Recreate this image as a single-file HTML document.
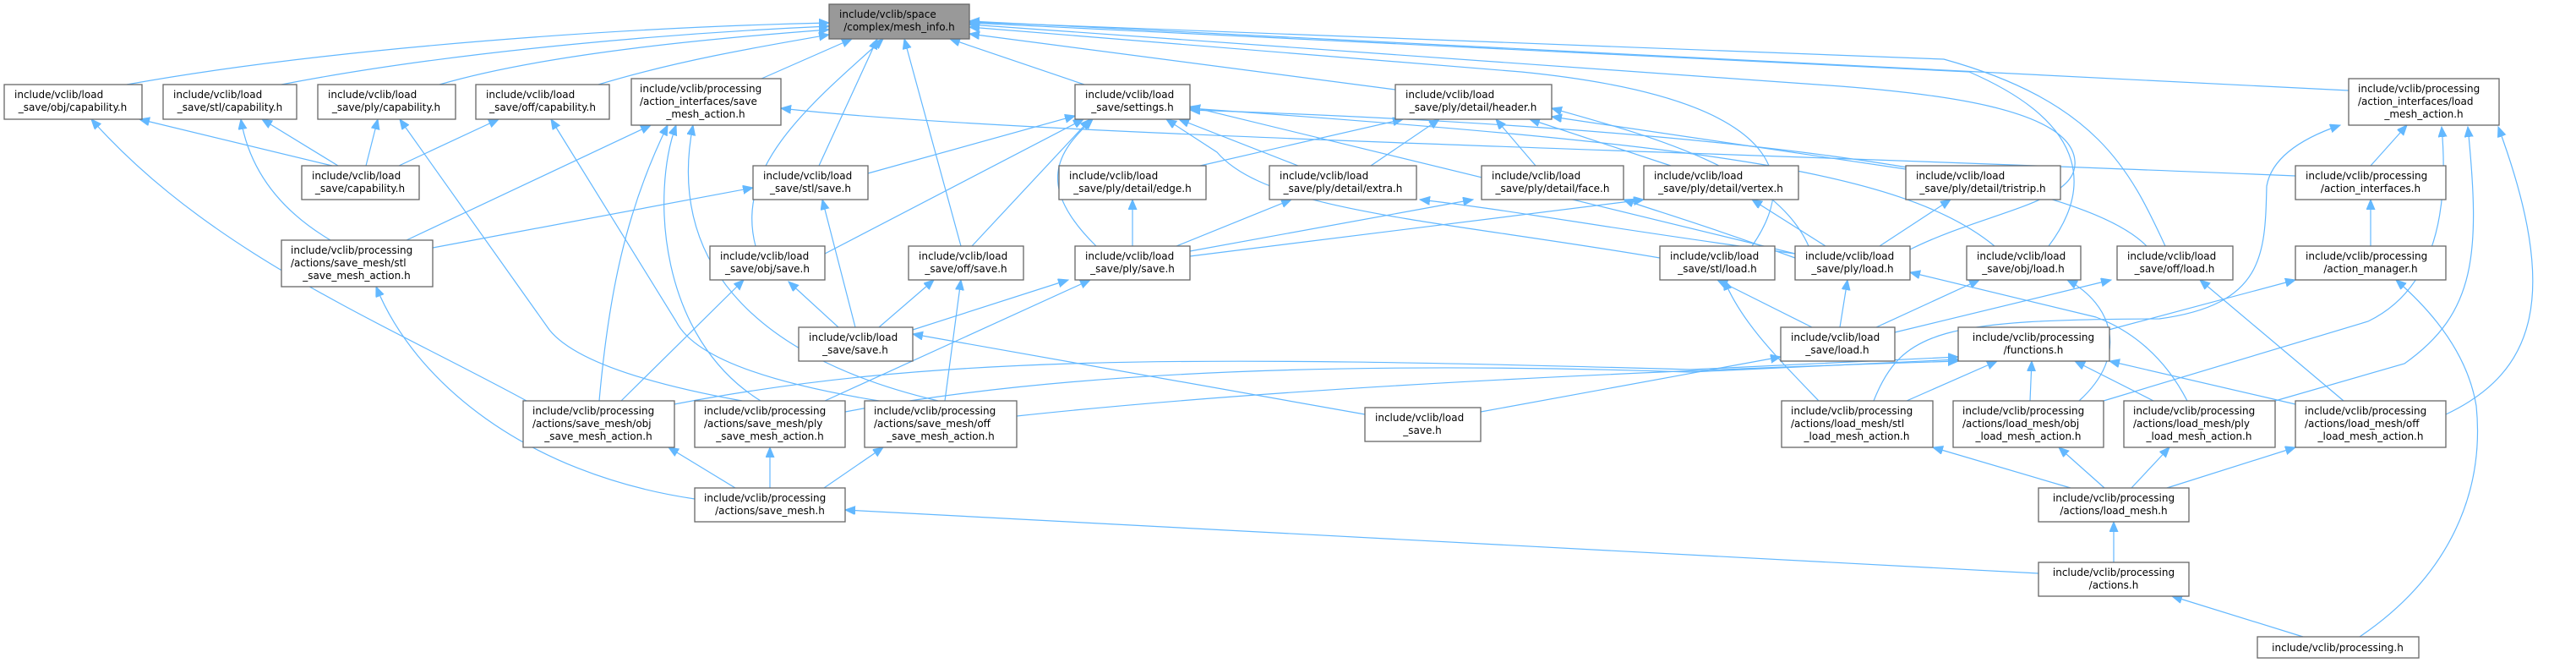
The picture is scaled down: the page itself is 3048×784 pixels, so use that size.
<!DOCTYPE html>
<html><head><meta charset="utf-8"><style>
html,body{margin:0;padding:0;background:#fff}
svg{display:block}
text{font-family:"DejaVu Sans","Liberation Sans",sans-serif;font-size:12px;fill:#000}
.n{fill:#fff;stroke:#666;stroke-width:1.3}
.m{fill:#999;stroke:#666;stroke-width:1.3}
path{fill:none;stroke:#63b8ff;stroke-width:1.2;marker-end:url(#a)}
</style></head><body>
<svg width="3048" height="784" viewBox="0 0 3048 784" xmlns="http://www.w3.org/2000/svg">
<defs><marker id="a" markerUnits="userSpaceOnUse" markerWidth="14" markerHeight="12" refX="12" refY="5" orient="auto"><polygon points="0,0 12,5 0,10" fill="#63b8ff" stroke="#63b8ff"/></marker></defs>

<!-- edges -->
<path d="M150,100 C400,55 750,32 981,27"/>
<path d="M333,100 C550,58 820,38 981,31"/>
<path d="M520,100 C650,62 860,44 981,35"/>
<path d="M708,100 C800,72 900,55 981,41"/>
<path d="M901,93 L1008,46"/>
<path d="M969,196 L1038,46"/>
<path d="M894,291 C870,200 950,130 1045,46"/>
<path d="M1137,291 L1070,46"/>
<path d="M1283,100 L1124,46"/>
<path d="M1651,106 L1147,40"/>
<path d="M2073,291 C2150,180 2050,110 1800,85 L1147,32"/>
<path d="M2260,295 C2350,250 2460,240 2455,190 C2450,130 2300,110 2150,100 L1147,29"/>
<path d="M2424,291 C2470,230 2480,150 2330,85 L1147,27"/>
<path d="M2562,291 C2520,200 2480,120 2300,70 L1147,26"/>
<path d="M2779,107 L1147,25"/>
<path d="M393,196 L165,141"/>
<path d="M400,196 L310,141"/>
<path d="M433,196 L447,141"/>
<path d="M472,196 L590,141"/>
<path d="M623,474 C450,380 250,300 108,141"/>
<path d="M391,284 Q300,230 285,141"/>
<path d="M878,474 Q690,440 650,390 L473,141"/>
<path d="M1040,474 Q830,440 800,380 L652,141"/>
<path d="M709,474 C720,350 740,250 790,148"/>
<path d="M900,474 C780,400 770,230 800,148"/>
<path d="M1110,474 C880,420 790,300 820,148"/>
<path d="M481,284 L770,148"/>
<path d="M512,293 L891,222"/>
<path d="M822,590 C620,560 490,450 445,339"/>
<path d="M2716,208 C2000,178 1200,160 924,128"/>
<path d="M1027,205 L1272,137"/>
<path d="M976,300 L1282,141"/>
<path d="M1150,291 L1290,141"/>
<path d="M1297,291 C1225,220 1250,180 1293,141"/>
<path d="M1536,196 L1395,141"/>
<path d="M1964,305 C1700,260 1500,250 1440,180 L1380,141"/>
<path d="M2124,300 L1408,126"/>
<path d="M2360,291 C2250,200 2000,170 1408,128"/>
<path d="M2540,291 C2450,200 2000,150 1408,130"/>
<path d="M1420,196 L1660,141"/>
<path d="M1622,196 L1703,141"/>
<path d="M1817,196 L1770,141"/>
<path d="M1977,196 L1810,141"/>
<path d="M2255,200 L1836,138"/>
<path d="M2140,291 C2100,200 1950,160 1836,128"/>
<path d="M1340,291 L1340,236"/>
<path d="M1392,291 L1528,236"/>
<path d="M1408,297 L1743,236"/>
<path d="M1408,303 L1945,236"/>
<path d="M2124,300 C1900,270 1800,250 1680,236"/>
<path d="M2124,305 C2000,260 1960,250 1921,236"/>
<path d="M2160,291 L2073,236"/>
<path d="M2224,291 L2308,236"/>
<path d="M992,387 L933,333"/>
<path d="M1012,387 L973,236"/>
<path d="M1040,387 L1105,331"/>
<path d="M1080,390 L1264,331"/>
<path d="M735,474 L880,331"/>
<path d="M1118,474 L1137,331"/>
<path d="M976,474 L1290,331"/>
<path d="M1615,490 L1080,395"/>
<path d="M1752,487 L2107,422"/>
<path d="M2144,387 L2032,331"/>
<path d="M2177,387 L2186,331"/>
<path d="M2220,387 L2342,331"/>
<path d="M2242,393 L2498,331"/>
<path d="M2152,474 C2100,420 2060,380 2040,331"/>
<path d="M2588,474 C2560,420 2520,390 2480,375 L2260,322"/>
<path d="M2460,474 C2520,420 2500,360 2446,331"/>
<path d="M2773,474 L2603,331"/>
<path d="M2256,474 L2363,427"/>
<path d="M2402,474 L2404,427"/>
<path d="M2548,474 L2455,427"/>
<path d="M2716,478 L2496,427"/>
<path d="M798,478 C1100,420 1400,420 2000,437 L2317,422"/>
<path d="M1000,487 C1300,430 1700,430 2000,440 L2317,425"/>
<path d="M1203,492 C1500,460 1900,440 2317,427"/>
<path d="M2495,390 L2716,331"/>
<path d="M2217,474 C2250,390 2300,378 2555,377 C2680,360 2680,300 2682,220 Q2690,175 2769,148"/>
<path d="M2489,474 L2802,380 Q2905,330 2889,150"/>
<path d="M2692,474 L2845,430 C2930,370 2935,300 2920,150"/>
<path d="M2894,490 C3000,440 3030,350 2956,150"/>
<path d="M2805,196 L2848,148"/>
<path d="M2805,291 L2805,236"/>
<path d="M2792,753 C2900,680 2940,580 2930,480 C2920,420 2880,370 2835,331"/>
<path d="M2725,753 L2570,705"/>
<path d="M2501,665 L2501,617"/>
<path d="M2412,678 L1000,603"/>
<path d="M2450,577 L2287,529"/>
<path d="M2490,577 L2436,529"/>
<path d="M2522,577 L2567,529"/>
<path d="M2564,577 L2716,529"/>
<path d="M911,577 L911,529"/>
<path d="M870,577 L791,529"/>
<path d="M975,577 L1045,529"/>

<!-- nodes -->
<rect class="m" x="981" y="5" width="166" height="41"/><text x="993" y="21">include/vclib/space</text><text x="1064" y="36" text-anchor="middle">/complex/mesh_info.h</text>

<rect class="n" x="5" y="100" width="163" height="41"/><text x="17" y="116">include/vclib/load</text><text x="86" y="131" text-anchor="middle">_save/obj/capability.h</text>
<rect class="n" x="193" y="100" width="158" height="41"/><text x="205" y="116">include/vclib/load</text><text x="272" y="131" text-anchor="middle">_save/stl/capability.h</text>
<rect class="n" x="376" y="100" width="163" height="41"/><text x="388" y="116">include/vclib/load</text><text x="457" y="131" text-anchor="middle">_save/ply/capability.h</text>
<rect class="n" x="563" y="100" width="158" height="41"/><text x="575" y="116">include/vclib/load</text><text x="642" y="131" text-anchor="middle">_save/off/capability.h</text>
<rect class="n" x="747" y="93" width="177" height="55"/><text x="757" y="109">include/vclib/processing</text><text x="757" y="124">/action_interfaces/save</text><text x="835" y="139" text-anchor="middle">_mesh_action.h</text>
<rect class="n" x="357" y="196" width="139" height="40"/><text x="369" y="212">include/vclib/load</text><text x="426" y="227" text-anchor="middle">_save/capability.h</text>
<rect class="n" x="891" y="196" width="136" height="40"/><text x="903" y="212">include/vclib/load</text><text x="959" y="227" text-anchor="middle">_save/stl/save.h</text>
<rect class="n" x="333" y="284" width="179" height="55"/><text x="344" y="300">include/vclib/processing</text><text x="344" y="315">/actions/save_mesh/stl</text><text x="422" y="330" text-anchor="middle">_save_mesh_action.h</text>
<rect class="n" x="840" y="291" width="136" height="40"/><text x="852" y="307">include/vclib/load</text><text x="908" y="322" text-anchor="middle">_save/obj/save.h</text>
<rect class="n" x="945" y="387" width="135" height="40"/><text x="957" y="403">include/vclib/load</text><text x="1012" y="418" text-anchor="middle">_save/save.h</text>
<rect class="n" x="1272" y="100" width="136" height="41"/><text x="1284" y="116">include/vclib/load</text><text x="1340" y="131" text-anchor="middle">_save/settings.h</text>
<rect class="n" x="1651" y="100" width="185" height="41"/><text x="1663" y="116">include/vclib/load</text><text x="1743" y="131" text-anchor="middle">_save/ply/detail/header.h</text>
<rect class="n" x="1253" y="196" width="174" height="40"/><text x="1265" y="212">include/vclib/load</text><text x="1340" y="227" text-anchor="middle">_save/ply/detail/edge.h</text>
<rect class="n" x="1502" y="196" width="174" height="40"/><text x="1514" y="212">include/vclib/load</text><text x="1589" y="227" text-anchor="middle">_save/ply/detail/extra.h</text>
<rect class="n" x="1753" y="196" width="168" height="40"/><text x="1765" y="212">include/vclib/load</text><text x="1837" y="227" text-anchor="middle">_save/ply/detail/face.h</text>
<rect class="n" x="1945" y="196" width="183" height="40"/><text x="1957" y="212">include/vclib/load</text><text x="2036" y="227" text-anchor="middle">_save/ply/detail/vertex.h</text>
<rect class="n" x="1075" y="291" width="136" height="40"/><text x="1087" y="307">include/vclib/load</text><text x="1143" y="322" text-anchor="middle">_save/off/save.h</text>
<rect class="n" x="1272" y="291" width="136" height="40"/><text x="1284" y="307">include/vclib/load</text><text x="1340" y="322" text-anchor="middle">_save/ply/save.h</text>
<rect class="n" x="1964" y="291" width="136" height="40"/><text x="1976" y="307">include/vclib/load</text><text x="2032" y="322" text-anchor="middle">_save/stl/load.h</text>
<rect class="n" x="2779" y="93" width="178" height="55"/><text x="2790" y="109">include/vclib/processing</text><text x="2790" y="124">/action_interfaces/load</text><text x="2868" y="139" text-anchor="middle">_mesh_action.h</text>
<rect class="n" x="2255" y="196" width="183" height="40"/><text x="2267" y="212">include/vclib/load</text><text x="2346" y="227" text-anchor="middle">_save/ply/detail/tristrip.h</text>
<rect class="n" x="2716" y="196" width="178" height="40"/><text x="2728" y="212">include/vclib/processing</text><text x="2805" y="227" text-anchor="middle">/action_interfaces.h</text>
<rect class="n" x="2124" y="291" width="136" height="40"/><text x="2136" y="307">include/vclib/load</text><text x="2192" y="322" text-anchor="middle">_save/ply/load.h</text>
<rect class="n" x="2327" y="291" width="135" height="40"/><text x="2339" y="307">include/vclib/load</text><text x="2394" y="322" text-anchor="middle">_save/obj/load.h</text>
<rect class="n" x="2505" y="291" width="137" height="40"/><text x="2517" y="307">include/vclib/load</text><text x="2573" y="322" text-anchor="middle">_save/off/load.h</text>
<rect class="n" x="2716" y="291" width="178" height="40"/><text x="2728" y="307">include/vclib/processing</text><text x="2805" y="322" text-anchor="middle">/action_manager.h</text>
<rect class="n" x="619" y="474" width="179" height="55"/><text x="630" y="490">include/vclib/processing</text><text x="630" y="505">/actions/save_mesh/obj</text><text x="708" y="520" text-anchor="middle">_save_mesh_action.h</text>
<rect class="n" x="822" y="474" width="178" height="55"/><text x="833" y="490">include/vclib/processing</text><text x="833" y="505">/actions/save_mesh/ply</text><text x="911" y="520" text-anchor="middle">_save_mesh_action.h</text>
<rect class="n" x="1023" y="474" width="180" height="55"/><text x="1034" y="490">include/vclib/processing</text><text x="1034" y="505">/actions/save_mesh/off</text><text x="1113" y="520" text-anchor="middle">_save_mesh_action.h</text>
<rect class="n" x="822" y="577" width="178" height="40"/><text x="833" y="593">include/vclib/processing</text><text x="911" y="608" text-anchor="middle">/actions/save_mesh.h</text>
<rect class="n" x="1615" y="482" width="137" height="40"/><text x="1627" y="498">include/vclib/load</text><text x="1683" y="513" text-anchor="middle">_save.h</text>
<rect class="n" x="2107" y="387" width="135" height="40"/><text x="2119" y="403">include/vclib/load</text><text x="2174" y="418" text-anchor="middle">_save/load.h</text>
<rect class="n" x="2317" y="387" width="179" height="40"/><text x="2406" y="403" text-anchor="middle">include/vclib/processing</text><text x="2406" y="418" text-anchor="middle">/functions.h</text>
<rect class="n" x="2108" y="474" width="179" height="55"/><text x="2119" y="490">include/vclib/processing</text><text x="2119" y="505">/actions/load_mesh/stl</text><text x="2197" y="520" text-anchor="middle">_load_mesh_action.h</text>
<rect class="n" x="2311" y="474" width="178" height="55"/><text x="2322" y="490">include/vclib/processing</text><text x="2322" y="505">/actions/load_mesh/obj</text><text x="2400" y="520" text-anchor="middle">_load_mesh_action.h</text>
<rect class="n" x="2513" y="474" width="179" height="55"/><text x="2524" y="490">include/vclib/processing</text><text x="2524" y="505">/actions/load_mesh/ply</text><text x="2602" y="520" text-anchor="middle">_load_mesh_action.h</text>
<rect class="n" x="2716" y="474" width="178" height="55"/><text x="2727" y="490">include/vclib/processing</text><text x="2727" y="505">/actions/load_mesh/off</text><text x="2805" y="520" text-anchor="middle">_load_mesh_action.h</text>
<rect class="n" x="2412" y="577" width="178" height="40"/><text x="2501" y="593" text-anchor="middle">include/vclib/processing</text><text x="2501" y="608" text-anchor="middle">/actions/load_mesh.h</text>
<rect class="n" x="2412" y="665" width="178" height="40"/><text x="2501" y="681" text-anchor="middle">include/vclib/processing</text><text x="2501" y="696" text-anchor="middle">/actions.h</text>
<rect class="n" x="2671" y="753" width="191" height="25"/><text x="2766" y="770" text-anchor="middle">include/vclib/processing.h</text>
</svg>
</body></html>
